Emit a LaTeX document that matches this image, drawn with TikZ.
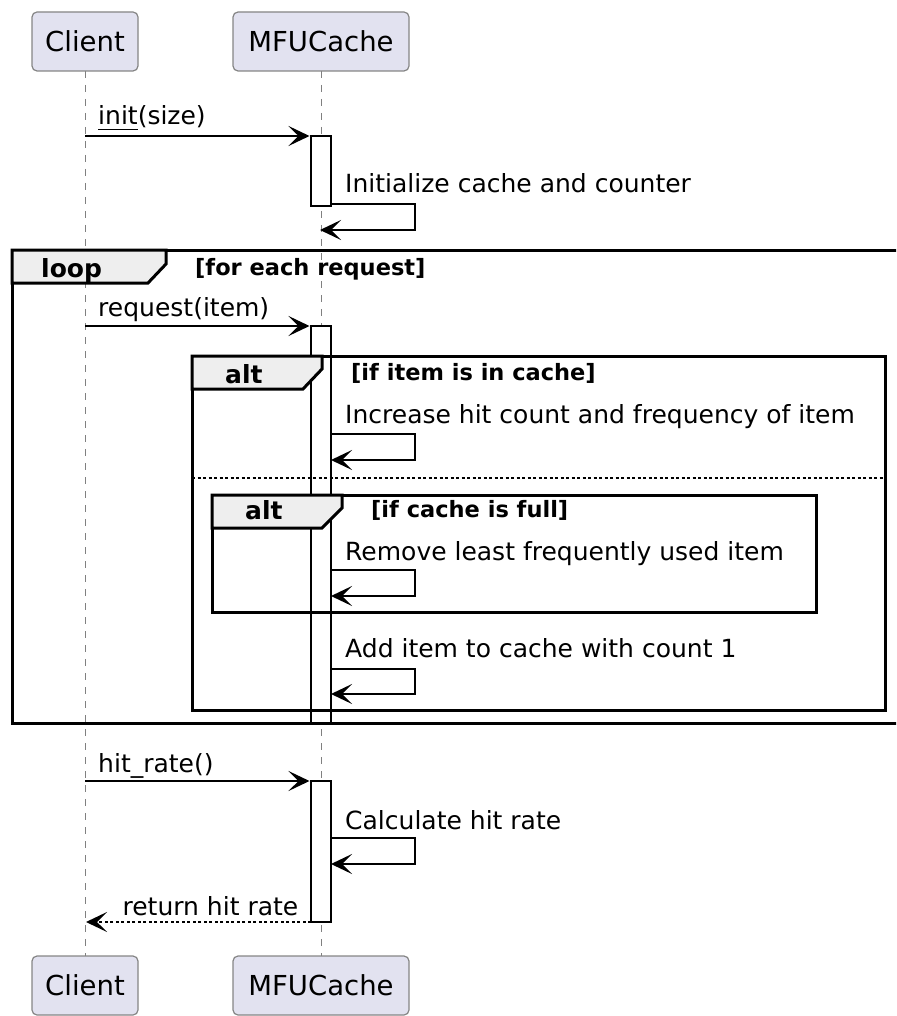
\documentclass[tikz,border=0pt]{standalone}
\usepackage{fontspec}
\setmainfont{DejaVu Sans}
\usetikzlibrary{arrows.meta}

\definecolor{partfill}{HTML}{E2E2F0}
\definecolor{partline}{HTML}{858585}
\definecolor{tabfill}{HTML}{EEEEEE}
\definecolor{lifegray}{HTML}{808080}

% underline drawn as a rule just below the baseline
\newcommand\callname[1]{\setbox0\hbox{#1}\rlap{\rule[-5.5pt]{\wd0}{1.6pt}}\box0}

\tikzset{
  participant/.style={draw=partline, fill=partfill, line width=1.2pt,
    rounded corners=5pt, minimum height=59pt, inner sep=0pt,
    font=\fontsize{27.5}{33}\selectfont},
  lifelinestyle/.style={draw=lifegray, line width=1pt, dash pattern=on 7pt off 7pt},
  actbar/.style={draw=black, fill=white, line width=1.9pt, minimum width=20pt,
    inner sep=0pt},
  msg/.style={line width=1.9pt, line join=miter,
    -{Stealth[length=21pt,width=20pt,inset=10pt]}},
  reply/.style={msg, dash pattern=on 3pt off 2.5pt},
  msgtext/.style={anchor=base west, inner sep=0pt, font=\fontsize{25}{30}\selectfont},
  framebox/.style={draw=black, line width=3pt},
  tabshape/.style={fill=tabfill, draw=black, line width=3pt, line join=miter},
  tablabel/.style={anchor=base west, inner sep=0pt, font=\bfseries\fontsize{25}{30}\selectfont},
  guard/.style={anchor=base west, inner sep=0pt, font=\bfseries\fontsize{22.5}{27}\selectfont},
  separator/.style={draw=black, line width=1.6pt, dash pattern=on 3pt off 2.5pt},
}

\begin{document}
\begin{tikzpicture}[x=1pt, y=-1pt]
  \useasboundingbox (0,0) rectangle (896,1016);
  \clip (0,0) rectangle (896,1016);

  % participant positions
  \coordinate (cTopS) at (85,71);
  \coordinate (mTopS) at (321,71);
  \coordinate (cBotN) at (85,956);
  \coordinate (mBotN) at (321,956);

  % lifelines
  \draw[lifelinestyle] (cTopS) -- (cBotN);
  \draw[lifelinestyle] (mTopS) -- (mBotN);

  % activation bars
  \node[actbar, minimum height=70pt] (act1) at (321,171) {};
  \node[actbar, minimum height=397pt] (act2) at (321,524.5) {};
  \node[actbar, minimum height=141pt] (act3) at (321,851.5) {};

  % loop frame
  \draw[framebox] (12,250) rectangle (900,723);
  \draw[tabshape] (12,250) -- (166,250) -- (166,264) -- (148,283) -- (12,283) -- cycle;
  \node[tablabel] (loopLbl) at (41,277) {loop};
  \node[guard] (loopGuard) at (195,275) {[for each request]};

  % outer alt frame
  \draw[framebox] (192,356) rectangle (885,710);
  \draw[tabshape] (192,356) -- (322,356) -- (322,369) -- (303,389) -- (192,389) -- cycle;
  \node[tablabel] (altLbl) at (225,383) {alt};
  \node[guard] (altGuard) at (351,380) {[if item is in cache]};
  \draw[separator] (192,478) -- (885,478);

  % inner alt frame
  \draw[framebox] (212,495) rectangle (816,612);
  \draw[tabshape] (212,495) -- (342,495) -- (342,508) -- (322,528) -- (212,528) -- cycle;
  \node[tablabel] (innerLbl) at (245,519) {alt};
  \node[guard] (innerGuard) at (371,517) {[if cache is full]};

  % init(size)
  \coordinate (initFrom) at (85,136);
  \coordinate (initTo) at (309.5,136);
  \draw[msg] (initFrom) -- (initTo);
  \node[msgtext] (initTxt) at (98,125) {\callname{init}(size)};

  % Initialize cache and counter
  \coordinate (s1a) at (331,204);
  \coordinate (s1b) at (415,204);
  \coordinate (s1c) at (415,230);
  \coordinate (s1d) at (320,230);
  \draw[msg] (s1a) -- (s1b) -- (s1c) -- (s1d);
  \node[msgtext] (s1Txt) at (345,193) {Initialize cache and counter};

  % request(item)
  \coordinate (reqFrom) at (85,326);
  \coordinate (reqTo) at (309.5,326);
  \draw[msg] (reqFrom) -- (reqTo);
  \node[msgtext] (reqTxt) at (98,316) {request(item)};

  % Increase hit count and frequency of item
  \coordinate (s2a) at (331,434);
  \coordinate (s2b) at (415,434);
  \coordinate (s2c) at (415,460);
  \coordinate (s2d) at (331,460);
  \draw[msg] (s2a) -- (s2b) -- (s2c) -- (s2d);
  \node[msgtext] (s2Txt) at (345,423) {Increase hit count and frequency of item};

  % Remove least frequently used item
  \coordinate (s3a) at (331,570);
  \coordinate (s3b) at (415,570);
  \coordinate (s3c) at (415,596);
  \coordinate (s3d) at (331,596);
  \draw[msg] (s3a) -- (s3b) -- (s3c) -- (s3d);
  \node[msgtext] (s3Txt) at (345,560) {Remove least frequently used item};

  % Add item to cache with count 1
  \coordinate (s4a) at (331,669);
  \coordinate (s4b) at (415,669);
  \coordinate (s4c) at (415,694);
  \coordinate (s4d) at (331,694);
  \draw[msg] (s4a) -- (s4b) -- (s4c) -- (s4d);
  \node[msgtext] (s4Txt) at (345,657) {Add item to cache with count 1};

  % hit_rate()
  \coordinate (hrFrom) at (85,781);
  \coordinate (hrTo) at (309.5,781);
  \draw[msg] (hrFrom) -- (hrTo);
  \node[msgtext] (hrTxt) at (98,772) {hit\_rate()};

  % Calculate hit rate
  \coordinate (s5a) at (331,838);
  \coordinate (s5b) at (415,838);
  \coordinate (s5c) at (415,864);
  \coordinate (s5d) at (331,864);
  \draw[msg] (s5a) -- (s5b) -- (s5c) -- (s5d);
  \node[msgtext] (s5Txt) at (345,829) {Calculate hit rate};

  % return hit rate
  \coordinate (retFrom) at (311,922);
  \coordinate (retTo) at (86,922);
  \draw[reply] (retFrom) -- (retTo);
  \node[msgtext, anchor=base east] (retTxt) at (298.5,915) {return hit rate};

  % participants, top and bottom
  \node[participant, minimum width=106pt] (cTop) at (85,41.5) {Client};
  \node[participant, minimum width=176pt] (mTop) at (321,41.5) {MFUCache};
  \node[participant, minimum width=106pt] (cBot) at (85,985.5) {Client};
  \node[participant, minimum width=176pt] (mBot) at (321,985.5) {MFUCache};
\end{tikzpicture}
\end{document}
